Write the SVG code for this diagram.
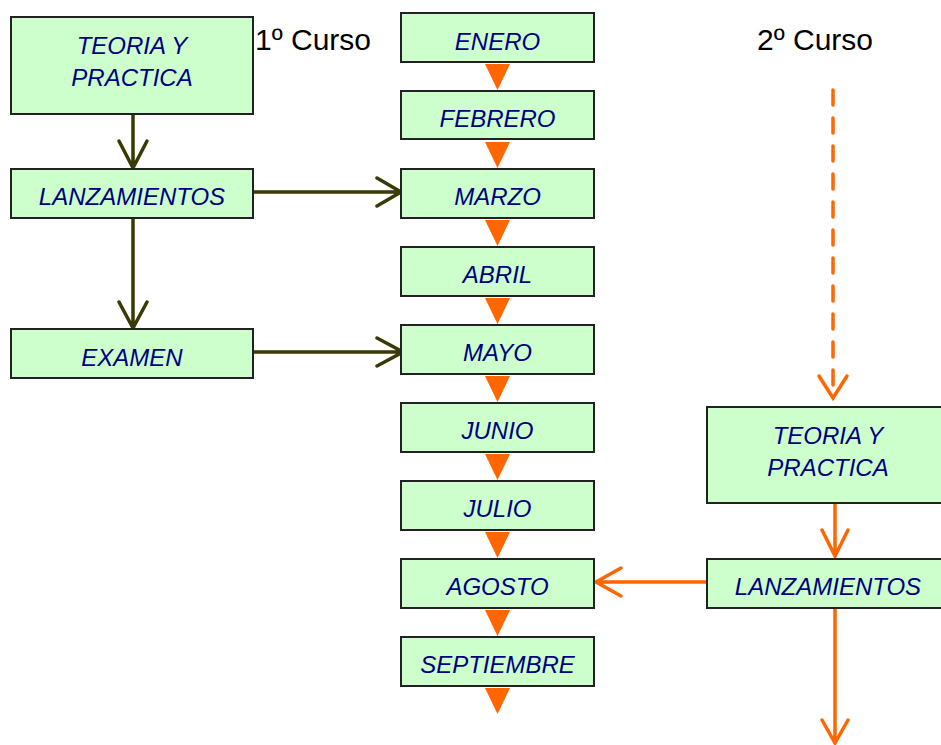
<svg xmlns="http://www.w3.org/2000/svg" width="941" height="745" viewBox="0 0 941 745">
<defs>
<style>
.box{fill:#CCFFCC;stroke:#222;stroke-width:2}
.lbl{font-family:"Liberation Sans",Arial,sans-serif;font-style:italic;font-size:24px;fill:#000080;text-anchor:middle}
.title{font-family:"Liberation Sans",Arial,sans-serif;font-size:30px;fill:#000}
.dk{stroke:#3a3a05;stroke-width:3.5;fill:none;stroke-linecap:round}
.or{stroke:#FF6600;stroke-width:3.5;fill:none;stroke-linecap:round}
.tri{fill:#FF6600}
</style>
</defs>
<rect width="941" height="745" fill="#fff"/>
<text class="title" x="255" y="50">1º Curso</text>
<text class="title" x="757" y="50">2º Curso</text>

<g id="connectors">
<path class="dk" d="M133,114V168M119,141L133,168L147,141"/>
<path class="dk" d="M133,218V327M119,302L133,328L147,302"/>
<path class="dk" d="M253,192H399M377,178L401,192L377,206"/>
<path class="dk" d="M253,352H401M377,338L403,352L377,366"/>
<path class="or" d="M833,90V396" stroke-dasharray="15,13" stroke-linecap="butt"/>
<path class="or" d="M819,376L833,398L847,376"/>
<path class="or" d="M835,503V556M822,530L835,556L848,530"/>
<path class="or" d="M707,582H596M621,568L596,582L621,596"/>
<path class="or" d="M835,608V742M822,720L835,743L848,720"/>
<polygon class="tri" points="485,64 510,64 497.5,90"/>
<polygon class="tri" points="485,142 510,142 497.5,168"/>
<polygon class="tri" points="485,220 510,220 497.5,246"/>
<polygon class="tri" points="485,298 510,298 497.5,324"/>
<polygon class="tri" points="485,376 510,376 497.5,402"/>
<polygon class="tri" points="485,454 510,454 497.5,480"/>
<polygon class="tri" points="485,532 510,532 497.5,558"/>
<polygon class="tri" points="485,610 510,610 497.5,636"/>
<polygon class="tri" points="485,688 510,688 497.5,714"/>
</g>

<g id="teoria1"><rect class="box" x="11" y="17" width="242" height="97"/><text class="lbl" x="132" y="54">TEORIA Y</text><text class="lbl" x="132" y="86">PRACTICA</text></g>
<g id="lanz1"><rect class="box" x="11" y="169" width="242" height="49"/><text class="lbl" x="132" y="205">LANZAMIENTOS</text></g>
<g id="examen"><rect class="box" x="11" y="329" width="242" height="49"/><text class="lbl" x="132" y="366">EXAMEN</text></g>

<g id="enero"><rect class="box" x="401" y="13" width="193" height="49"/><text class="lbl" x="497.5" y="50">ENERO</text></g>
<g id="febrero"><rect class="box" x="401" y="91" width="193" height="48"/><text class="lbl" x="497.5" y="127">FEBRERO</text></g>
<g id="marzo"><rect class="box" x="401" y="169" width="193" height="49"/><text class="lbl" x="497.5" y="205">MARZO</text></g>
<g id="abril"><rect class="box" x="401" y="247" width="193" height="49"/><text class="lbl" x="497.5" y="283">ABRIL</text></g>
<g id="mayo"><rect class="box" x="401" y="325" width="193" height="49"/><text class="lbl" x="497.5" y="361">MAYO</text></g>
<g id="junio"><rect class="box" x="401" y="403" width="193" height="49"/><text class="lbl" x="497.5" y="439">JUNIO</text></g>
<g id="julio"><rect class="box" x="401" y="481" width="193" height="49"/><text class="lbl" x="497.5" y="517">JULIO</text></g>
<g id="agosto"><rect class="box" x="401" y="559" width="193" height="49"/><text class="lbl" x="497.5" y="595">AGOSTO</text></g>
<g id="septiembre"><rect class="box" x="401" y="637" width="193" height="49"/><text class="lbl" x="497.5" y="673">SEPTIEMBRE</text></g>

<g id="teoria2"><rect class="box" x="707" y="407" width="244" height="96"/><text class="lbl" x="828" y="444">TEORIA Y</text><text class="lbl" x="828" y="476">PRACTICA</text></g>
<g id="lanz2"><rect class="box" x="707" y="559" width="244" height="49"/><text class="lbl" x="828" y="595">LANZAMIENTOS</text></g>
</svg>
